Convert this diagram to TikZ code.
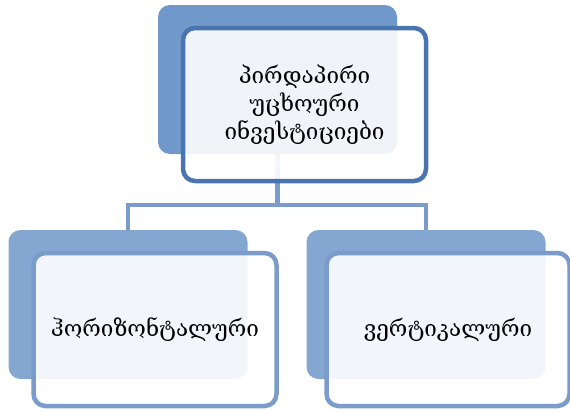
\documentclass[tikz,border=0pt]{standalone}
\usepackage{fontspec}
\newfontfamily\geofont[Script=Georgian]{DejaVu Serif}
\usetikzlibrary{positioning}
\definecolor{hierdark}{RGB}{74,116,176}
\definecolor{hierback}{RGB}{112,152,202}
\definecolor{hierlight}{RGB}{132,167,210}
\definecolor{hierline}{RGB}{123,155,203}

\tikzset{
  backbox/.style={draw=none, fill=#1, rounded corners=12pt, inner sep=0pt,
    minimum width=239pt, minimum height=149pt},
  frontbox/.style={draw=#1, line width=4.5pt, fill=white, fill opacity=0.9,
    text opacity=1, rounded corners=12pt, inner sep=0pt, align=center,
    minimum width=243pt, minimum height=153pt,
    font=\geofont\fontsize{22.5}{28}\selectfont},
  link/.style={draw=hierline, line width=4.5pt}
}

\begin{document}
\begin{tikzpicture}[x=1pt, y=-1pt]
\useasboundingbox (0,0) rectangle (570,410);
% back plates
\node[backbox=hierback] (rootback) at (277.5,79.5) {};
\node[backbox=hierlight] (horback) at (128,304.5) {};
\node[backbox=hierlight] (verback) at (426,304.5) {};
% connectors between the plates
\draw[link] (rootback.south) -- ++(0,51) -| (horback.north);
\draw[link] (rootback.south) -- ++(0,51) -| (verback.north);
% front cards with text
\node[frontbox=hierdark] (root) at (304.5,104.5) {პირდაპირი\\უცხოური\\ინვესტიციები};
\node[frontbox=hierline] (hor) at (155,329.5) {ჰორიზონტალური};
\node[frontbox=hierline] (ver) at (448,329.5) {ვერტიკალური};
\end{tikzpicture}
\end{document}
